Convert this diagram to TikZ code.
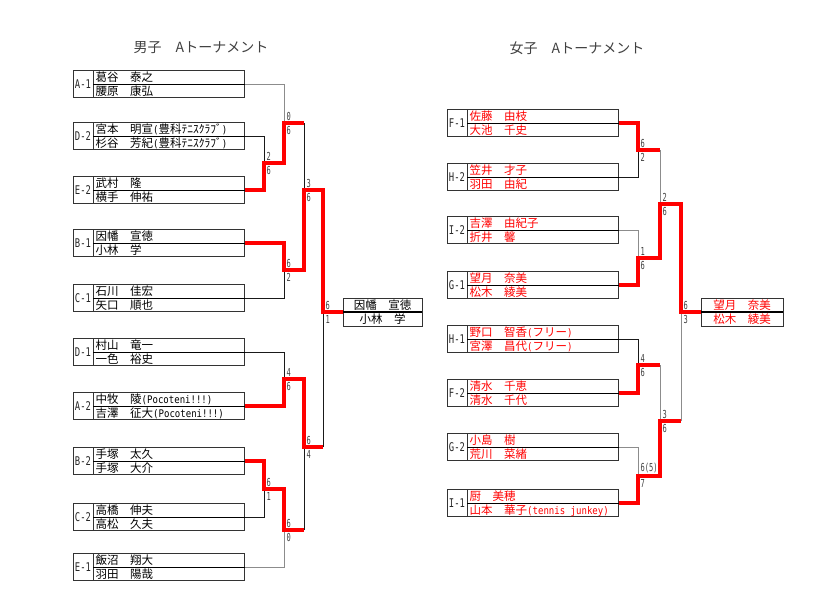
\documentclass[tikz,border=0pt]{standalone}
\usepackage{fontspec}
\usepackage{graphicx}
\setmainfont{Noto Sans CJK JP}
\newfontfamily\lat{DejaVu Sans Mono}
\definecolor{rd}{RGB}{255,0,0}
\newcommand{\ascii}[1]{\scalebox{0.86}[1]{\lat\fontsize{10.5}{10.5}\selectfont #1}}
\newcommand{\labtxt}[1]{\scalebox{0.74}[1]{\lat\fontsize{12}{12}\selectfont #1}}
\newcommand{\scotxt}[1]{\scalebox{0.64}[1]{\lat\fontsize{11}{11}\selectfont #1}}
\tikzset{
  labbox/.style={draw=black!80, line width=0.8pt, minimum width=20pt, minimum height=27pt,
    inner sep=0pt, text=black!85},
  namebox/.style={draw=black!80, line width=0.8pt, minimum width=151pt, minimum height=27pt,
    inner sep=0pt, anchor=west},
  midline/.style={black, line width=0.6pt},
  ntext/.style={inner sep=0pt, anchor=west, font=\fontsize{11.5}{11.5}\selectfont,
    text height=10pt, text depth=1.4pt},
  wire/.style={black!90, line width=0.7pt},
  gwire/.style={black!45, line width=0.9pt},
  win/.style={rd, line width=3.3pt},
  sc/.style={inner sep=0pt, text=black!75},
  ttl/.style={font=\fontsize{14}{14}\selectfont, text=black!75},
  finbox/.style={draw=black!80, line width=0.8pt, minimum height=28pt, inner sep=0pt},
  finline/.style={black, line width=1.6pt},
}
\newcommand{\ent}[7]{%
  \node[labbox] (l#1) at ({#3+10},#4) {\labtxt{#2}};
  \node[namebox] (#1) at ({#3+20},#4) {};
  \draw[midline] (#1.west) -- (#1.east);
  \node[ntext,text=#7] (#1t) at ([xshift=2.5pt,yshift=6.75pt]#1.west) {#5};
  \node[ntext,text=#7] (#1b) at ([xshift=2.5pt,yshift=-6.75pt]#1.west) {#6};
}
\newcommand{\sco}[4]{%
  \node[sc,anchor=south west] (#1u) at ([xshift=2.4pt,yshift=2.6pt]#2) {\scotxt{#3}};
  \node[sc,anchor=north west] (#1d) at ([xshift=2.4pt,yshift=-3.2pt]#2) {\scotxt{#4}};
}
\begin{document}
\begin{tikzpicture}[x=1pt,y=-1pt]
\useasboundingbox (0,0) rectangle (838,592);

% titles
\node[ttl] (t1) at (201,48) {男子　Aトーナメント};
\node[ttl] (t2) at (577,48) {女子　Aトーナメント};

% men entries
\ent{mA1}{A-1}{73}{84}{葛谷　泰之}{腰原　康弘}{black}
\ent{mD2}{D-2}{73}{136}{宮本　明宣\ascii{(}豊科ﾃﾆｽｸﾗﾌﾞ\ascii{)}}{杉谷　芳紀\ascii{(}豊科ﾃﾆｽｸﾗﾌﾞ\ascii{)}}{black}
\ent{mE2}{E-2}{73}{190}{武村　隆}{横手　伸祐}{black}
\ent{mB1}{B-1}{73}{243}{因幡　宣徳}{小林　学}{black}
\ent{mC1}{C-1}{73}{298}{石川　佳宏}{矢口　順也}{black}
\ent{mD1}{D-1}{73}{352}{村山　竜一}{一色　裕史}{black}
\ent{mA2}{A-2}{73}{406}{中牧　陵\ascii{(Pocoteni!!!)}}{吉澤　征大\ascii{(Pocoteni!!!)}}{black}
\ent{mB2}{B-2}{73}{461}{手塚　太久}{手塚　大介}{black}
\ent{mC2}{C-2}{73}{517}{高橋　伸夫}{高松　久夫}{black}
\ent{mE1}{E-1}{73}{567}{飯沼　翔大}{羽田　陽哉}{black}

% women entries
\ent{wF1}{F-1}{447}{123}{佐藤　由枝}{大池　千史}{rd}
\ent{wH2}{H-2}{447}{177}{笠井　才子}{羽田　由紀}{rd}
\ent{wI2}{I-2}{447}{230}{吉澤　由紀子}{折井　馨}{rd}
\ent{wG1}{G-1}{447}{285}{望月　奈美}{松木　綾美}{rd}
\ent{wH1}{H-1}{447}{339}{野口　智香\ascii{(}フリー\ascii{)}}{宮澤　昌代\ascii{(}フリー\ascii{)}}{rd}
\ent{wF2}{F-2}{447}{393}{清水　千恵}{清水　千代}{rd}
\ent{wG2}{G-2}{447}{447}{小島　樹}{荒川　菜緒}{rd}
\ent{wI1}{I-1}{447}{503}{厨　美穂}{山本　華子\ascii{(tennis junkey)}}{rd}

% final boxes
\node[finbox, minimum width=79pt] (mFin) at (382.5,312) {};
\draw[finline] (mFin.west) -- (mFin.east);
\node[ntext, anchor=center] (mFin1) at ([yshift=7pt]mFin.center) {因幡　宣徳};
\node[ntext, anchor=center] (mFin2) at ([yshift=-7pt]mFin.center) {小林　学};
\node[finbox, minimum width=82pt] (wFin) at (742,312) {};
\draw[finline] (wFin.west) -- (wFin.east);
\node[ntext, anchor=center, text=rd] (wFin1) at ([yshift=7pt]wFin.center) {望月　奈美};
\node[ntext, anchor=center, text=rd] (wFin2) at ([yshift=-7pt]wFin.center) {松木　綾美};

% men junctions
\coordinate (j1) at (264,163);
\coordinate (j2) at (284,123);
\coordinate (j3) at (284,270);
\coordinate (j4) at (304,190);
\coordinate (j5) at (284,379);
\coordinate (j6) at (264,489);
\coordinate (j7) at (284,530);
\coordinate (j8) at (304,447);
\coordinate (jf) at (323,312);
% women junctions
\coordinate (k1) at (638,150);
\coordinate (k2) at (638,258);
\coordinate (k3) at (660,204);
\coordinate (k4) at (638,365);
\coordinate (k5) at (638,476);
\coordinate (k6) at (660,421);
\coordinate (kf) at (681,312);

% losing lines (men)
\draw[gwire] (mA1.east) -| (j2);
\draw[wire] (mD2.east) -| (j1);
\draw[wire] (j2 -| j4) -- (j4);
\draw[wire] (mC1.east) -| (j3);
\draw[wire] (mD1.east) -| (j5);
\draw[wire] (j8 -| jf) -- (jf);
\draw[wire] (mC2.east) -| (j6);
\draw[gwire] (mE1.east) -| (j7);
\draw[wire] (j7 -| j8) -- (j8);
% losing lines (women)
\draw[wire] (wH2.east) -| (k1);
\draw[gwire] (k1 -| k3) -- (k3);
\draw[gwire] (wI2.east) -| (k2);
\draw[wire] (wH1.east) -| (k4);
\draw[gwire] (k4 -| k6) -- (k6);
\draw[gwire] (wG2.east) -| (k5);
\draw[gwire] (k6 -| kf) -- (kf);

% winning lines (men)
\draw[win] (mE2.east) -| (j1) -| (j2) -- (j2 -| j4);
\draw[win] (mB1.east) -| (j3) -| (j4) -| (jf) -- (mFin.west);
\draw[win] (mA2.east) -| (j5) -| (j8) -- (j8 -| jf);
\draw[win] (mB2.east) -| (j6) -| (j7) -- (j7 -| j8);
% winning lines (women)
\draw[win] (wF1.east) -| (k1) -- (k1 -| k3);
\draw[win] (wG1.east) -| (k2) -| (k3) -| (kf) -- (wFin.west);
\draw[win] (wF2.east) -| (k4) -- (k4 -| k6);
\draw[win] (wI1.east) -| (k5) -| (k6) -- (k6 -| kf);

% scores
\sco{s1}{j1}{2}{6}
\sco{s2}{j2}{0}{6}
\sco{s3}{j3}{6}{2}
\sco{s4}{j4}{3}{6}
\sco{s5}{j5}{4}{6}
\sco{s6}{j6}{6}{1}
\sco{s7}{j7}{6}{0}
\sco{s8}{j8}{6}{4}
\sco{s9}{jf}{6}{1}
\sco{r1}{k1}{6}{2}
\sco{r2}{k2}{1}{6}
\sco{r3}{k3}{2}{6}
\sco{r4}{k4}{4}{6}
\sco{r5}{k5}{6(5)}{7}
\sco{r6}{k6}{3}{6}
\sco{r7}{kf}{6}{3}
\end{tikzpicture}
\end{document}
